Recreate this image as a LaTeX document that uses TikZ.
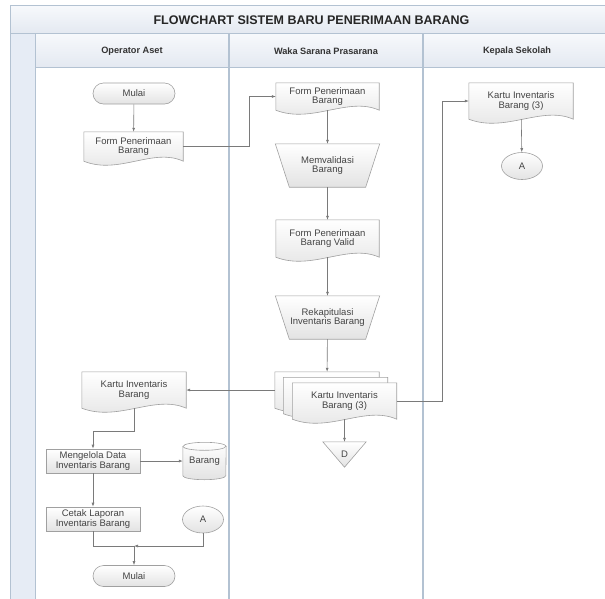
\documentclass[tikz,border=0pt]{standalone}
\usepackage{fontspec}
\setmainfont{Liberation Sans}
\usetikzlibrary{calc,shapes.geometric,shapes.misc,arrows.meta}

\definecolor{laneline}{HTML}{B3C2D2}
\definecolor{lanefill}{HTML}{E6ECF5}
\definecolor{bandtop}{HTML}{F7F9FC}
\definecolor{bandbot}{HTML}{E4E9F1}
\definecolor{shapeline}{HTML}{A0A0A0}
\definecolor{shapetext}{HTML}{444444}
\definecolor{flowline}{HTML}{7A7A7A}

\pgfdeclarelayer{lanes}
\pgfdeclarelayer{outlines}
\pgfsetlayers{lanes,outlines,main}

\tikzset{
    boxtext/.style={align=center, text=shapetext, inner sep=0pt,
        font=\fontsize{9.5}{9.5}\selectfont},
    shapefill/.style={draw=shapeline, line width=0.6pt, top color=white, bottom color=black!11},
    process/.style={boxtext, shapefill, rectangle, minimum width=94pt, minimum height=24pt},
    terminal/.style={boxtext, shapefill, rounded rectangle, minimum width=82pt, minimum height=21pt},
    connector/.style={boxtext, shapefill, ellipse, minimum width=41pt, minimum height=27pt},
    docnode/.style={boxtext, rectangle, minimum width=104pt, minimum height=36pt},
    trapnode/.style={boxtext, rectangle, minimum width=104pt, minimum height=43pt},
    offnode/.style={boxtext, rectangle, minimum width=43pt, minimum height=25pt},
    cylnode/.style={boxtext, rectangle, minimum width=43pt, minimum height=37pt},
    lanehead/.style={font=\fontsize{9.2}{10}\selectfont\bfseries, text=black!80},
    arr/.style={draw=flowline, line width=0.6pt, -{Latex[length=4pt,width=3pt]}},
    plain/.style={draw=flowline, line width=0.6pt}
}

\newcommand*{\docoutline}[1]{%
    \path[shapefill] let \p1=(#1.north west), \p2=(#1.south east), \n1={\x2-\x1} in
        (\x1,\y1) -- (\x2,\y1) -- (\x2,\y2)
        .. controls (\x2-0.3*\n1,\y2+14pt) and (\x1+0.35*\n1,\y2-14pt) .. (\x1,\y2) -- cycle;}
\newcommand*{\trapoutline}[1]{%
    \path[shapefill] let \p1=(#1.north west), \p2=(#1.south east) in
        (\x1,\y1) -- (\x2,\y1) -- (\x2-14pt,\y2) -- (\x1+14pt,\y2) -- cycle;}
\newcommand*{\offoutline}[1]{%
    \path[shapefill] (#1.north west) -- (#1.north east) -- (#1.south) -- cycle;}
\newcommand*{\cyloutline}[2]{%
    \path[shapefill] let \p1=(#1.north west), \p2=(#1.south east) in
        (\x1,\y1-4pt) -- (\x1,\y2+4pt)
        arc[start angle=180, end angle=360, x radius=#2, y radius=4pt]
        -- (\x2,\y1-4pt)
        arc[start angle=0, end angle=180, x radius=#2, y radius=4pt] -- cycle;
    \draw[shapeline, line width=0.6pt] let \p1=(#1.north west) in
        (\x1,\y1-4pt) arc[start angle=180, end angle=360, x radius=#2, y radius=4pt];}

\begin{document}
\begin{tikzpicture}[x=1pt, y=-1pt]
    \useasboundingbox (0,0) rectangle (605,598);

    \begin{pgfonlayer}{lanes}
        \shade[top color=bandtop, bottom color=bandbot] (10,5) rectangle (606,33);
        \shade[top color=bandtop, bottom color=bandbot] (35,33) rectangle (606,67);
        \fill[lanefill] (10,33) rectangle (35,599);
        \begin{scope}[draw=laneline, line width=0.8pt]
            \draw (10,599) -- (10,5) -- (606,5);
            \draw (10,33) -- (606,33);
            \draw (35,67) -- (606,67);
            \draw (35,33) -- (35,599);
            \foreach \lx in {229, 423} {
                \draw[line width=1.3pt] (\lx,33) -- (\lx,599);
            }
        \end{scope}
    \end{pgfonlayer}

    \node[font=\fontsize{12.5}{13}\selectfont\bfseries, text=black!85] (judul) at (311.5,20) {FLOWCHART SISTEM BARU PENERIMAAN BARANG};
    \node[lanehead] (operator) at (132,51) {Operator Aset};
    \node[lanehead] (waka) at (326,51) {Waka Sarana Prasarana};
    \node[lanehead] (kepsek) at (517,51) {Kepala Sekolah};

    % Operator Aset
    \node[terminal] (mulai) at (134,93.5) {Mulai};
    \node[docnode, minimum width=99pt, minimum height=29pt] (formA) at (133.5,146.5) {Form Penerimaan\\Barang};
    \node[docnode] (kartuOp) at (134,390) {Kartu Inventaris\\Barang};
    \node[process] (kelola) at (93,461) {Mengelola Data\\Inventaris Barang};
    \node[cylnode] (dbBarang) at (204.5,461) {Barang};
    \node[process] (cetak) at (93,519) {Cetak Laporan\\Inventaris Barang};
    \node[connector] (conA2) at (203,519.5) {A};
    \node[terminal] (selesai) at (134,576) {Mulai};
    \coordinate (gabung) at (134,546);

    % Waka Sarana Prasarana
    \node[docnode, minimum width=103pt, minimum height=27pt] (formB) at (327.5,96.5) {Form Penerimaan\\Barang};
    \node[trapnode] (validasi) at (327.5,165.5) {Memvalidasi\\Barang};
    \node[docnode, minimum width=103pt, minimum height=37pt] (formValid) at (327.5,238.5) {Form Penerimaan\\Barang Valid};
    \node[trapnode] (rekap) at (327.5,317.5) {Rekapitulasi\\Inventaris Barang};
    \node[docnode] (kartuC) at (327,390) {};
    \node[docnode] (kartuB) at (335.5,395.5) {};
    \node[docnode] (kartuA) at (344.5,401) {Kartu Inventaris\\Barang (3)};
    \node[offnode] (offD) at (344.5,454.5) {D};

    % Kepala Sekolah
    \node[docnode] (kartuKS) at (521,101) {Kartu Inventaris\\Barang (3)};
    \node[connector] (conA) at (522,166) {A};

    \begin{pgfonlayer}{outlines}
        \foreach \docname in {formA, kartuOp, formB, formValid, kartuC, kartuB, kartuA, kartuKS} {
            \docoutline{\docname}
        }
        \trapoutline{validasi}
        \trapoutline{rekap}
        \offoutline{offD}
        \cyloutline{dbBarang}{21.5pt}
    \end{pgfonlayer}

    \draw[arr] (mulai) -- (formA);
    \draw[arr] (formA.east) -- ++(66,0) |- (formB.west);
    \draw[arr] (formB) -- (validasi);
    \draw[arr] (validasi) -- (formValid);
    \draw[arr] (formValid) -- (rekap);
    \draw[arr] (rekap) -- (kartuC);
    \draw[arr] (kartuA) -- (offD);
    \draw[arr] (kartuA.east) -- ++(46,0) |- (kartuKS.west);
    \draw[arr] (kartuC.west) -- (kartuOp.east);
    \draw[arr] (kartuKS) -- (conA);
    \draw[arr] (kartuOp.south) -- ++(0,23) -| (kelola.north);
    \draw[arr] (kelola.east) -- (kelola.east -| dbBarang.west);
    \draw[arr] (kelola) -- (cetak);
    \draw[plain] (cetak.south) |- (gabung);
    \draw[arr] (conA2.south) |- (gabung);
    \draw[arr] (gabung) -- (selesai);
\end{tikzpicture}
\end{document}
